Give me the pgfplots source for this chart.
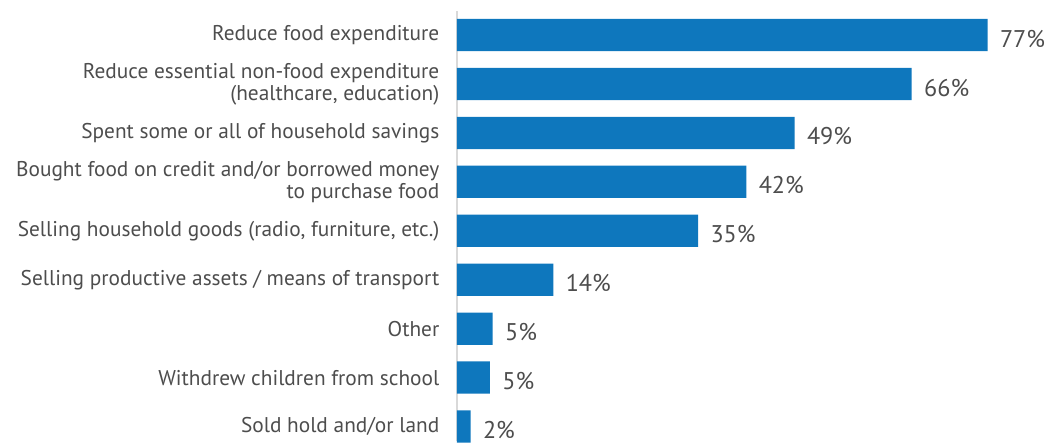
\documentclass[border=0pt]{standalone}
\usepackage{pgfplots}
\pgfplotsset{compat=1.18}
\usepackage{fontspec}
\setmainfont{PT Sans}
\definecolor{barblue}{HTML}{0E77BD}
\definecolor{txtgray}{HTML}{4D4D4D}
\definecolor{axgray}{HTML}{D9D9D9}

\begin{document}
\begin{tikzpicture}
  \begin{axis}[
      xbar,
      scale only axis,
      width=295.5pt,
      height=213.5pt,
      xmin=0, xmax=86.28,
      ymin=-0.49, ymax=8.29,
      y dir=reverse,
      axis x line=none,
      axis y line*=left,
      y axis line style={draw=axgray, line width=0.8pt},
      ytick={0,...,8},
      yticklabels={
        Reduce food expenditure,
        {Reduce essential non-food expenditure\\(healthcare, education)},
        Spent some or all of household savings,
        {Bought food on credit and/or borrowed money\\to purchase food},
        {Selling household goods (radio, furniture, etc.)},
        Selling productive assets / means of transport,
        Other,
        Withdrew children from school,
        Sold hold and/or land},
      major tick length=0pt,
      ytick style={draw=none},
      yticklabel style={font=\fontsize{10.6}{10.8}\selectfont, text=txtgray,
        align=right, inner sep=0pt, xshift=-8.5pt},
      clip=false,
    ]
    \addplot[xbar, fill=barblue, draw=none, bar width=0.658,
      nodes near coords={\pgfplotspointmeta\%},
      point meta=explicit symbolic,
      nodes near coords style={anchor=west, inner sep=0pt, xshift=6pt, yshift=-1.8pt,
        font=\fontsize{12}{13}\selectfont, text=txtgray}]
      table[meta=lab] {
        x   y  lab
        77  0  77
        66  1  66
        49  2  49
        42  3  42
        35  4  35
        14  5  14
        5.2 6  5
        4.8 7  5
        2   8  2
      };
  \end{axis}
  \path (current axis.north west) ++(-227pt,5.5pt);
\end{tikzpicture}
\end{document}
